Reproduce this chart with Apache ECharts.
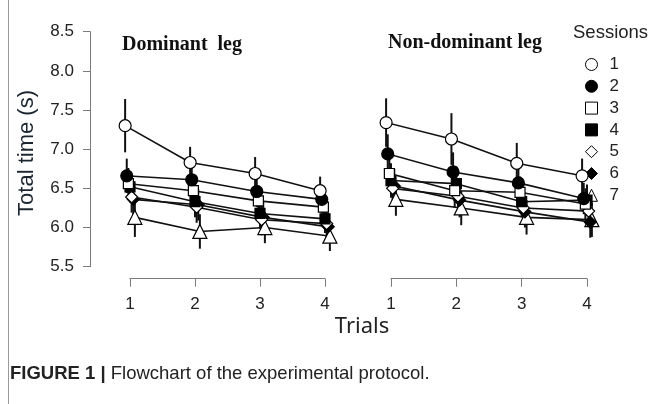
<!DOCTYPE html>
<html>
<head>
<meta charset="utf-8">
<script src="https://cdn.jsdelivr.net/npm/echarts@6/dist/echarts.min.js"></script>
<style>
html,body{margin:0;padding:0;background:#fff;}
#chart{width:651px;height:404px;}
</style>
</head>
<body>
<div id="chart"></div>
<script>
// ---- data ----
const trials = [1, 2, 3, 4];
const sessions = ['1', '2', '3', '4', '5', '6', '7'];
const yTicks = [5.5, 6.0, 6.5, 7.0, 7.5, 8.0, 8.5];

// Dominant leg: mean total time (s) per session, trials 1-4
const domS1 = [7.30, 6.83, 6.69, 6.47];
const domS2 = [6.66, 6.61, 6.46, 6.36];
const domS3 = [6.56, 6.47, 6.34, 6.26];
const domS4 = [6.52, 6.33, 6.18, 6.11];
const domS5 = [6.39, 6.26, 6.10, 6.05];
const domS6 = [6.36, 6.29, 6.13, 6.01];
const domS7 = [6.13, 5.95, 6.00, 5.89];
// Dominant leg: error per session
const domE1 = [0.34, 0.20, 0.21, 0.18];
const domE2 = [0.22, 0.20, 0.20, 0.18];
const domE3 = [0.20, 0.20, 0.20, 0.18];
const domE4 = [0.20, 0.20, 0.20, 0.18];
const domE5 = [0.20, 0.20, 0.20, 0.18];
const domE6 = [0.20, 0.20, 0.20, 0.18];
const domE7 = [0.25, 0.22, 0.20, 0.19];

// Non-dominant leg
const ndS1 = [7.34, 7.13, 6.82, 6.66];
const ndS2 = [6.94, 6.71, 6.57, 6.37];
const ndS3 = [6.69, 6.47, 6.45, 6.30];
const ndS4 = [6.60, 6.56, 6.33, 6.35];
const ndS5 = [6.50, 6.40, 6.25, 6.21];
const ndS6 = [6.53, 6.35, 6.20, 6.07];
const ndS7 = [6.36, 6.25, 6.13, 6.10];
const ndE1 = [0.31, 0.33, 0.26, 0.22];
const ndE2 = [0.25, 0.25, 0.22, 0.20];
const ndE3 = [0.22, 0.22, 0.20, 0.20];
const ndE4 = [0.22, 0.22, 0.20, 0.20];
const ndE5 = [0.22, 0.22, 0.20, 0.20];
const ndE6 = [0.22, 0.22, 0.20, 0.20];
const ndE7 = [0.21, 0.22, 0.22, 0.22];

// ---- build ----
const domMeans = [domS1, domS2, domS3, domS4, domS5, domS6, domS7];
const domErrs = [domE1, domE2, domE3, domE4, domE5, domE6, domE7];
const ndMeans = [ndS1, ndS2, ndS3, ndS4, ndS5, ndS6, ndS7];
const ndErrs = [ndE1, ndE2, ndE3, ndE4, ndE5, ndE6, ndE7];

const shapes = ['circle', 'circle', 'rect', 'rect', 'diamond', 'diamond', 'triangle'];
const filled = [false, true, false, true, false, true, false];
const sizes = [12, 12, 10, 10, 12, 12, 14];
const dodgeStep = 0.025; // horizontal jitter between sessions (trial units)

const chart = echarts.init(document.getElementById('chart'));
const series = [];

function addPanel(means, errs, gi) {
  means.forEach((vals, i) => {
    const dx = (i - 3) * dodgeStep;
    const pts = trials.map((t, k) => [t + dx, vals[k], errs[i][k]]);
    series.push({
      type: 'custom',
      xAxisIndex: gi, yAxisIndex: gi,
      z: 1, silent: true, clip: false,
      data: pts,
      renderItem: function (params, api) {
        const x = api.value(0), y = api.value(1), e = api.value(2);
        const p1 = api.coord([x, y + e]);
        const p2 = api.coord([x, y - e]);
        return {
          type: 'line',
          shape: { x1: p1[0], y1: p1[1], x2: p2[0], y2: p2[1] },
          style: { stroke: '#111', lineWidth: 2 }
        };
      }
    });
    series.push({
      type: 'line',
      name: sessions[i],
      xAxisIndex: gi, yAxisIndex: gi,
      z: 10 - i,
      clip: false,
      data: pts.map(p => [p[0], p[1]]),
      symbol: shapes[i],
      symbolSize: sizes[i],
      showAllSymbol: true,
      lineStyle: { color: '#111', width: 1.6 },
      itemStyle: { color: filled[i] ? '#000' : '#fff', borderColor: '#000', borderWidth: 1.2 },
      emphasis: { disabled: true },
      animation: false
    });
  });
}
addPanel(domMeans, domErrs, 0);
addPanel(ndMeans, ndErrs, 1);

const axisGray = '#7a7a7a';
const xAxisCommon = {
  type: 'value', min: 1, max: 4, interval: 1,
  offset: 12,
  axisLine: { show: true, lineStyle: { color: axisGray, width: 1 } },
  axisTick: { show: true, inside: false, length: 8, lineStyle: { color: axisGray } },
  axisLabel: { color: '#222', fontSize: 17, fontFamily: 'Liberation Sans', margin: 17,
    formatter: v => trials.includes(v) ? String(v) : '' },
  splitLine: { show: false }
};

const option = {
  animation: false,
  backgroundColor: '#fff',
  grid: [
    { left: 130, width: 195, top: 31.7, height: 235 },
    { left: 391, width: 196, top: 31.7, height: 235 }
  ],
  xAxis: [
    Object.assign({ gridIndex: 0 }, xAxisCommon),
    Object.assign({ gridIndex: 1 }, xAxisCommon)
  ],
  yAxis: [
    { gridIndex: 0, type: 'value', min: yTicks[0], max: yTicks[yTicks.length - 1], interval: 0.5,
      offset: 40,
      axisLine: { show: true, lineStyle: { color: axisGray, width: 1 } },
      axisTick: { show: true, length: 7, lineStyle: { color: axisGray } },
      axisLabel: { color: '#222', fontSize: 17, fontFamily: 'Liberation Sans', margin: 16,
        formatter: v => v.toFixed(1) },
      splitLine: { show: false } },
    { gridIndex: 1, type: 'value', min: yTicks[0], max: yTicks[yTicks.length - 1], interval: 0.5,
      show: false, splitLine: { show: false } }
  ],
  legend: {
    orient: 'vertical',
    left: 580, top: 51,
    itemWidth: 12, itemHeight: 12,
    itemGap: 4.8,
    selectedMode: false,
    textStyle: { color: '#222', fontSize: 17, fontFamily: 'Liberation Sans', padding: [0, 0, 0, 7] },
    data: sessions.map((s, i) => ({ name: s, icon: shapes[i],
      itemStyle: { color: filled[i] ? '#000' : '#fff', borderColor: '#000', borderWidth: 1 } }))
  },
  graphic: [
    { type: 'line', shape: { x1: 8.5, y1: 0, x2: 8.5, y2: 404 }, style: { stroke: '#999', lineWidth: 1 } },
    { type: 'text', left: 122, top: 35,
      style: { text: 'Dominant  leg', font: 'bold 20px "Liberation Serif"', fill: '#111' } },
    { type: 'text', left: 388, top: 33,
      style: { text: 'Non-dominant leg', font: 'bold 20px "Liberation Serif"', fill: '#111' } },
    { type: 'text', left: 573, top: 23,
      style: { text: 'Sessions', font: '18.5px "Liberation Sans"', fill: '#222' } },
    { type: 'text', x: 27, y: 153, rotation: Math.PI / 2,
      style: { text: 'Total time (s)', font: '22px "Liberation Sans"', fill: '#1c2630',
        textAlign: 'center', textVerticalAlign: 'middle' } },
    { type: 'text', x: 362, y: 327,
      style: { text: 'Trials', font: '22px "Noto Sans"', fill: '#222',
        textAlign: 'center', textVerticalAlign: 'middle' } },
    { type: 'text', left: 10, top: 364,
      style: { text: '{b|FIGURE 1 |} Flowchart of the experimental protocol.',
        rich: { b: { font: 'bold 18.5px "Liberation Sans"', fill: '#222' } },
        font: '18.5px "Liberation Sans"', fill: '#222' } }
  ],
  series: series
};
chart.setOption(option);
</script>
</body>
</html>
